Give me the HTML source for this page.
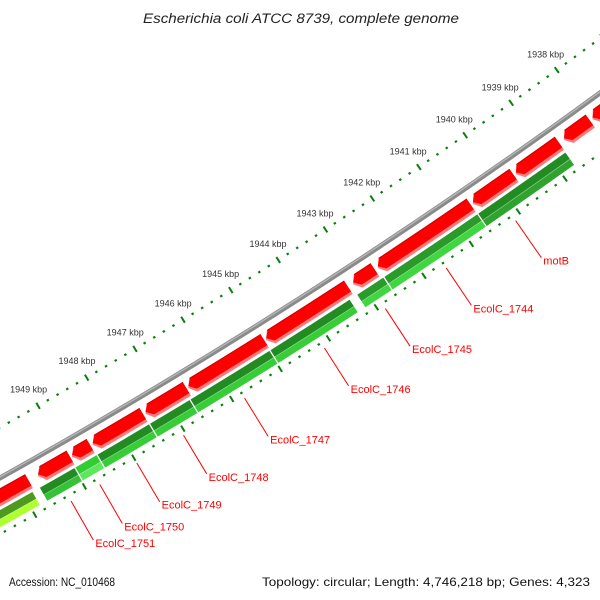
<!DOCTYPE html>
<html><head><meta charset="utf-8"><style>
html,body{margin:0;padding:0;background:#fff;}
svg{display:block;font-family:"Liberation Sans",sans-serif;}
</style></head><body>
<svg id="map" width="600" height="600" viewBox="0 0 600 600" xmlns="http://www.w3.org/2000/svg">
<rect x="0" y="0" width="600" height="600" fill="#fff"/>
<g id="ticks"></g>
<g id="backbone"></g>
<g id="fwd"></g>
<g id="rev"></g>
<g id="glabels"></g>
<text x="143" y="23" textLength="316" lengthAdjust="spacingAndGlyphs" font-size="13.5" font-style="italic" fill="#222">Escherichia coli ATCC 8739, complete genome</text>
<text x="9" y="586" textLength="106" lengthAdjust="spacingAndGlyphs" font-size="12" fill="#111">Accession: NC_010468</text>
<text x="262" y="586" textLength="328" lengthAdjust="spacingAndGlyphs" font-size="12" fill="#111">Topology: circular; Length: 4,746,218 bp; Genes: 4,323</text>
</svg>
<script>
// data (kbp)
const tickLabels = [1938,1939,1940,1941,1942,1943,1944,1945,1946,1947,1948,1949];
const fwdStart = [1949.8,1948.96,1948.55,1947.47,1946.58,1944.97,1943.22,1942.66,1940.62,1939.7,1938.72,1938.05,1936.5];
const fwdEnd   = [1951.0,1949.62,1948.93,1948.51,1947.43,1946.55,1944.94,1943.12,1942.6,1940.58,1939.66,1938.62,1938.0];
const revStart = [1949.83,1948.98,1948.53,1947.46,1946.63,1944.98,1943.31,1942.6,1940.61,1938.72];
const revEnd   = [1951.0,1949.7,1948.98,1948.53,1947.46,1946.63,1944.98,1943.17,1942.6,1940.61];
const revTop   = ["#4e9a1e","#228b22","#32cd32","#228b22","#228b22","#228b22","#228b22","#2a9a2a","#2a9a2a","#228b22"];
const revBot   = ["#adff2f","#36c236","#5fe65f","#36cd36","#36cd36","#36cd36","#36cd36","#3fd63f","#3fd63f","#2ea32e"];
const geneNames = ["EcolC_1751","EcolC_1750","EcolC_1749","EcolC_1748","EcolC_1747","EcolC_1746","EcolC_1745","EcolC_1744","motB"];
const labelBp   = [1949.33,1948.75,1948.0,1947.05,1945.8,1944.15,1942.88,1941.6,1940.13];

const NS="http://www.w3.org/2000/svg";
const P=[[0,478],[330,279],[600,93]];
function circ(a,b,c){const d=2*(a[0]*(b[1]-c[1])+b[0]*(c[1]-a[1])+c[0]*(a[1]-b[1]));
const A=a[0]*a[0]+a[1]*a[1],B=b[0]*b[0]+b[1]*b[1],C=c[0]*c[0]+c[1]*c[1];
return [(A*(b[1]-c[1])+B*(c[1]-a[1])+C*(a[1]-b[1]))/d,(A*(c[0]-b[0])+B*(a[0]-c[0])+C*(b[0]-a[0]))/d];}
const [cx,cy]=circ(P[0],P[1],P[2]);
const R=Math.hypot(P[0][0]-cx,P[0][1]-cy);
const tickR=R-44;
const phiRef=Math.atan2(198-cy,372-cx);
const k=56.2/tickR;
function phi(bp){return phiRef+(bp-1942)*k;}
function pt(r,f){return [cx+r*Math.cos(f),cy+r*Math.sin(f)];}
function f2(v){return v.toFixed(2);}
function mk(tag,attrs,parent){const e=document.createElementNS(NS,tag);for(const a in attrs)e.setAttribute(a,attrs[a]);parent.appendChild(e);return e;}
function arcPath(r,f1,f2_){const a=pt(r,f1),b=pt(r,f2_);return "M"+f2(a[0])+","+f2(a[1])+"A"+f2(r)+","+f2(r)+" 0 0 1 "+f2(b[0])+","+f2(b[1]);}
function sector(r1,r2,f1,fe){const a=pt(r2,f1),b=pt(r2,fe),c=pt(r1,fe),d=pt(r1,f1);
return "M"+f2(a[0])+","+f2(a[1])+"A"+f2(r2)+","+f2(r2)+" 0 0 1 "+f2(b[0])+","+f2(b[1])+"L"+f2(c[0])+","+f2(c[1])+"A"+f2(r1)+","+f2(r1)+" 0 0 0 "+f2(d[0])+","+f2(d[1])+"Z";}
function arrow(r1,r2,f1,fe){const h=6/R;const a=pt(r2,f1),b=pt(r2,fe-h),m=pt((r1+r2)/2,fe),c=pt(r1,fe-h),d=pt(r1,f1);
return "M"+f2(a[0])+","+f2(a[1])+"A"+f2(r2)+","+f2(r2)+" 0 0 1 "+f2(b[0])+","+f2(b[1])+"L"+f2(m[0])+","+f2(m[1])+"L"+f2(c[0])+","+f2(c[1])+"A"+f2(r1)+","+f2(r1)+" 0 0 0 "+f2(d[0])+","+f2(d[1])+"Z";}

// ticks
const tg=document.getElementById('ticks');
for(let i=0;i<=80;i++){const bp=1935+i*0.2;const f=phi(bp);const major=(i%5===0);
 [tickR,R+49].forEach(function(r){const l=major?7:2.2;const a=pt(r-l/2,f),b=pt(r+l/2,f);
  const t=mk('line',{x1:f2(a[0]),y1:f2(a[1]),x2:f2(b[0]),y2:f2(b[1]),stroke:'#0b7d0b','stroke-width':major?2:2.4},tg);
  
  
 });}
tickLabels.forEach(function(v){const p=pt(tickR-19,phi(v));
 const t=mk('text',{x:f2(p[0]),y:f2(p[1]+3),'text-anchor':'middle','font-size':'9',fill:'#333'},tg);
 t.textContent=v+" kbp";
 
 
});

// backbone
const bg=document.getElementById('backbone');
const f0=phi(1930),f1=phi(1955);
const bb=mk('path',{d:arcPath(R,f0,f1),fill:'none',stroke:'#8a8a8a','stroke-width':5},bg);


const bh=mk('path',{d:arcPath(R-1,f0,f1),fill:'none',stroke:'#b8b8b8','stroke-width':1.3},bg);



// forward genes (red)
const fg=document.getElementById('fwd');
for(let i=0;i<fwdStart.length;i++){const a=phi(fwdStart[i]),b=phi(fwdEnd[i]);
 const s=mk('path',{d:arrow(R+9,R+25,a,b),fill:'#ff7b7b'},fg);
 
 
 const g=mk('path',{d:arrow(R+9,R+22,a,b-1/R),fill:'#ff0000'},fg);
 
 
 const e=mk('path',{d:arcPath(R+9.5,a,b-6/R),fill:'none',stroke:'#d00000','stroke-width':1},fg);
 
 
}

// reverse genes (green)
const rg=document.getElementById('rev');
for(let i=0;i<revStart.length;i++){const a=phi(revStart[i]),b=phi(revEnd[i]);
 const t=mk('path',{d:sector(R+28,R+36,a,b),fill:revTop[i]},rg);
 
 
 const bt=mk('path',{d:sector(R+36,R+43,a,b),fill:revBot[i]},rg);
 
 
 const h=mk('path',{d:arcPath(R+36,a,b),fill:'none',stroke:'rgba(255,255,255,0.35)','stroke-width':0.8},rg);
 
 
 [a,b].forEach(function(f){const p=pt(R+27,f),q=pt(R+44,f);
  const l=mk('line',{x1:f2(p[0]),y1:f2(p[1]),x2:f2(q[0]),y2:f2(q[1]),stroke:'#fff','stroke-width':1.2},rg);
  
  
 });
}

// gene labels
const lg=document.getElementById('glabels');
geneNames.forEach(function(n,i){const f=phi(labelBp[i]);const p=pt(R+55,f),q=pt(R+100,f);
 const l=mk('line',{x1:f2(p[0]),y1:f2(p[1]),x2:f2(q[0]),y2:f2(q[1]),stroke:'#ff0000','stroke-width':1},lg);
 
 
 const t=mk('text',{x:f2(q[0]+2),y:f2(q[1]+7),'font-size':'11',fill:'#ff0000'},lg);
 t.textContent=n;
 
 
});
</script>
</body></html>
